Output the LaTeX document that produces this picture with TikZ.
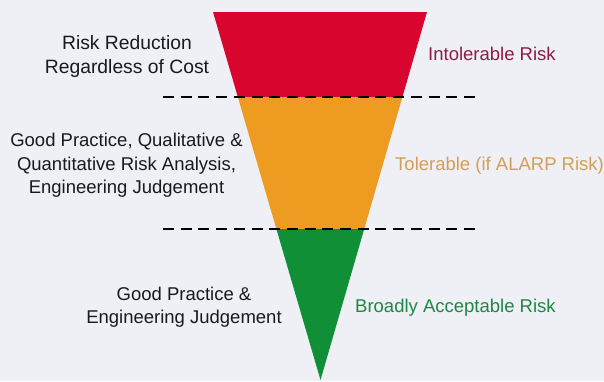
\documentclass[tikz,border=0pt]{standalone}
\usepackage{fontspec}
\setmainfont{Liberation Sans}
\definecolor{bg}{RGB}{238,240,246}
\definecolor{zonered}{RGB}{216,6,46}
\definecolor{zoneorange}{RGB}{238,155,34}
\definecolor{zonegreen}{RGB}{16,143,54}
\definecolor{txtred}{RGB}{142,27,66}
\definecolor{txtorange}{RGB}{212,158,88}
\definecolor{txtgreen}{RGB}{30,135,70}
\definecolor{txtdark}{RGB}{26,26,26}
\tikzset{
  lbl/.style={inner sep=0pt, font=\fontsize{18.5}{23.5}\selectfont},
  leftlbl/.style={lbl, align=center, text=txtdark},
  rightlbl/.style={lbl, anchor=base west},
  divider/.style={line width=2.8pt, dash pattern=on 11pt off 6.7pt, black}
}
\begin{document}
\begin{tikzpicture}[x=1pt,y=-1pt]
  % canvas
  \fill[bg] (0,0) rectangle (604,381);
  \useasboundingbox (0,0) rectangle (604,381);

  % inverted triangle split into three risk zones
  \coordinate (tl) at (213,12);
  \coordinate (tr) at (427,12);
  \coordinate (apex) at (320.5,380);
  \begin{scope}
    \clip (tl) -- (tr) -- (apex) -- cycle;
    \fill[zonered]    (150,0)   rectangle (480,97);
    \fill[zoneorange] (150,97)  rectangle (480,229);
    \fill[zonegreen]  (150,229) rectangle (480,381);
  \end{scope}

  % zone boundaries
  \coordinate (d1a) at (163,97);
  \coordinate (d1b) at (477,97);
  \coordinate (d2a) at (163,229);
  \coordinate (d2b) at (477,229);
  \draw[divider] (d1a) -- (d1b);
  \draw[divider] (d2a) -- (d2b);

  % measures on the left
  \node[leftlbl, font=\fontsize{19.3}{24}\selectfont] (mred) at (127,57) {Risk Reduction\\Regardless of Cost};
  \node[leftlbl] (morange) at (126.5,165.3) {Good Practice, Qualitative \&\\Quantitative Risk Analysis,\\Engineering Judgement};
  \node[leftlbl] (mgreen) at (184,307.3) {Good Practice \&\\Engineering Judgement};

  % risk categories on the right
  \node[rightlbl, text=txtred] (cred) at (428,60.7) {Intolerable Risk};
  \node[rightlbl, text=txtorange] (corange) at (395,170.7) {Tolerable (if ALARP Risk)};
  \node[rightlbl, text=txtgreen] (cgreen) at (355,312.7) {Broadly Acceptable Risk};
\end{tikzpicture}
\end{document}
